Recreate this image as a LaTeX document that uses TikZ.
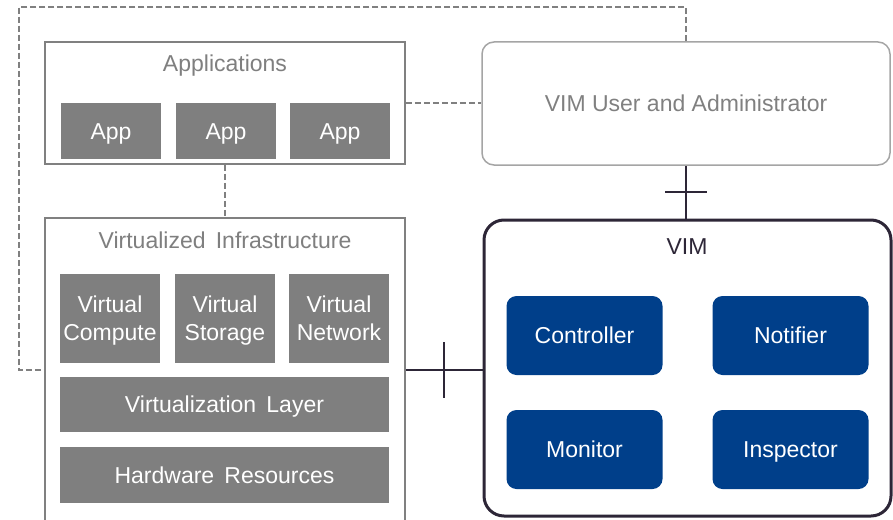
\documentclass[tikz,border=0pt]{standalone}
\usepackage{fontspec}
\setmainfont{Liberation Sans}
\usetikzlibrary{positioning, calc}

\definecolor{boxgray}{RGB}{127,127,127}
\definecolor{linegray}{RGB}{128,128,128}
\definecolor{usergray}{RGB}{165,165,165}
\definecolor{vimblue}{RGB}{0,63,138}
\definecolor{vimdark}{RGB}{45,38,55}

\begin{document}
\begin{tikzpicture}[
    x=1pt, y=-1pt,
    font=\fontsize{23}{28}\selectfont,
    frame/.style={rectangle, draw=linegray, line width=1.5pt, fill=white, inner sep=0pt},
    part/.style={rectangle, fill=boxgray, text=white, align=center, inner sep=0pt, text height=16.5pt, text depth=0pt, minimum width=100pt, minimum height=56pt},
    func/.style={rectangle, rounded corners=10pt, fill=vimblue, text=white, inner sep=0pt, text height=16.5pt, text depth=0pt, minimum width=156pt, minimum height=79pt},
    title/.style={text=boxgray, inner sep=0pt, text height=16.5pt, text depth=0pt},
    link/.style={draw=linegray, line width=1.5pt, dash pattern=on 6pt off 3pt},
    iface/.style={draw=vimdark, line width=2pt}
]
\useasboundingbox (0,0) rectangle (893,519);
\clip (0,0) rectangle (893,519);

% Applications
\node[frame, minimum width=360pt, minimum height=122pt] (apps) at (225,103) {};
\node[title] (appstitle) at (225,63) {Applications};
\node[part] (app1) at (111,131) {App};
\node[part] (app2) at (226,131) {App};
\node[part] (app3) at (340,131) {App};

% VIM user
\node[rectangle, rounded corners=12pt, draw=usergray, line width=1.5pt, text=linegray, text height=16.5pt, text depth=0pt, minimum width=408pt, minimum height=123pt] (user) at (686,103.5) {VIM User and Administrator};

% Virtualized infrastructure
\node[frame, minimum width=360pt, minimum height=304pt] (virt) at (225,370) {};
\node[title] (virttitle) at (225,240) {Virtualized\, Infrastructure};
\node[part, text height=44.5pt, minimum height=89pt] (vcomp) at (110,318.5) {Virtual\\Compute};
\node[part, text height=44.5pt, minimum height=89pt] (vstor) at (225,318.5) {Virtual\\Storage};
\node[part, text height=44.5pt, minimum height=89pt] (vnet) at (339,318.5) {Virtual\\Network};
\node[part, minimum width=329pt, minimum height=55pt] (layer) at (224.5,404.5) {Virtualization\, Layer};
\node[part, minimum width=329pt, minimum height=56pt] (hw) at (224.5,475) {Hardware\, Resources};

% VIM
\node[rectangle, rounded corners=20pt, draw=vimdark, line width=3pt, fill=white, minimum width=407pt, minimum height=296pt] (vim) at (687.5,368) {};
\node[text=vimdark, inner sep=0pt, text height=16.5pt, text depth=0pt] (vimtitle) at (687,246) {VIM};
\node[func] (ctrl) at (584.5,335.5) {Controller};
\node[func] (notif) at (790.5,335.5) {Notifier};
\node[func] (mon) at (584.5,449.5) {Monitor};
\node[func] (insp) at (790.5,449.5) {Inspector};

% dashed links
\coordinate (corner) at (19,7);
\draw[link] (apps.east) -- (apps.east -| user.west);
\draw[link] (apps.south) -- (apps.south |- virt.north);
\draw[link] (user.north) |- (corner) |- (virt.west);

% interfaces
\draw[iface] (user.south) -- (user.south |- vim.north);
\draw[iface] ($(user.south)!0.5!(user.south |- vim.north)$) ++(-21,0) -- ++(42,0);
\draw[iface] (virt.east) -- (virt.east -| vim.west);
\draw[iface] ($(virt.east)!0.5!(virt.east -| vim.west)$) ++(0,-28) -- ++(0,56);

\end{tikzpicture}
\end{document}
